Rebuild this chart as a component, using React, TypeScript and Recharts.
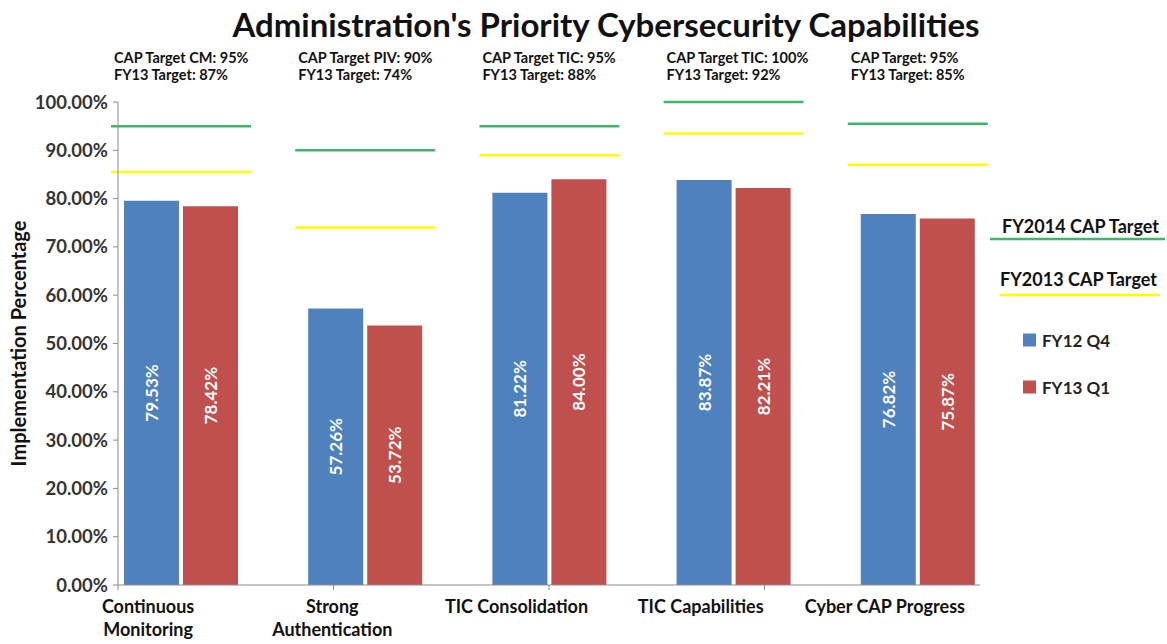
import { BarChart, Bar, XAxis, YAxis, LabelList, Legend } from "recharts";

const categories = [
  "Continuous Monitoring",
  "Strong Authentication",
  "TIC Consolidation",
  "TIC Capabilities",
  "Cyber CAP Progress",
];
const tickLines = [
  ["Continuous", "Monitoring"],
  ["Strong", "Authentication"],
  ["TIC Consolidation"],
  ["TIC Capabilities"],
  ["Cyber CAP Progress"],
];
const fy12q4 = [79.53, 57.26, 81.22, 83.87, 76.82];
const fy13q1 = [78.42, 53.72, 84.0, 82.21, 75.87];
// target lines as drawn in the picture
const fy2014Target = [95, 90, 95, 100, 95.5];
const fy2013Target = [85.5, 74, 89, 93.5, 87];
const capLabels = [
  "CAP Target CM: 95%",
  "CAP Target PIV: 90%",
  "CAP Target TIC: 95%",
  "CAP Target TIC: 100%",
  "CAP Target: 95%",
];
const fy13Labels = [
  "FY13 Target: 87%",
  "FY13 Target: 74%",
  "FY13 Target: 88%",
  "FY13 Target:  92%",
  "FY13 Target: 85%",
];
const yTicks = [0, 10, 20, 30, 40, 50, 60, 70, 80, 90, 100];

const data = categories.map((name, i) => ({
  name,
  fy12: fy12q4[i],
  fy13: fy13q1[i],
  t14: fy2014Target[i],
  t13: fy2013Target[i],
}));

const FONT = "Lato, 'Liberation Sans', sans-serif";
const BLUE = "#4F81BD";
const RED = "#C0504D";
const GREEN = "#3DB86B";
const YELLOW = "#FFFF00";
const PAD = { left: -29, right: -30 };

const targetShape = (color: string) => (props: any) =>
  (
    <line
      x1={props.x}
      x2={props.x + props.width}
      y1={props.y}
      y2={props.y}
      stroke={color}
      strokeWidth={2.5}
    />
  );

const ValueLabel = (props: any) => {
  const { x, y, width, height, value } = props;
  const cx = x + width / 2;
  const cy = y + height / 2;
  return (
    <text
      x={cx}
      y={cy}
      transform={`rotate(-90 ${cx} ${cy})`}
      textAnchor="middle"
      dominantBaseline="central"
      fill="#fff"
      fontSize={17}
      fontWeight={700}
      fontFamily={FONT}
    >
      {Number(value).toFixed(2)}%
    </text>
  );
};

const TargetNote = (props: any) => {
  const { x, index } = props;
  return (
    <text fontFamily={FONT} fontSize={14.5} fontWeight={700} fill="#111">
      <tspan x={x + 3} y={63}>{capLabels[index]}</tspan>
      <tspan x={x + 3} y={80}>{fy13Labels[index]}</tspan>
    </text>
  );
};

const CategoryTick = (props: any) => {
  const { x, y, index } = props;
  const lines = tickLines[index] || [];
  return (
    <text textAnchor="middle" fontFamily={FONT} fontSize={18} fontWeight={700} fill="#111">
      {lines.map((l, i) => (
        <tspan key={l} x={x - 33} y={y + 14 + i * 23}>
          {l}
        </tspan>
      ))}
    </text>
  );
};

const LegendBox = (props: any) => {
  const items = props.payload || [];
  const byName = (n: string) => items.find((p: any) => p.value === n) || { color: "#000", value: n };
  const g = byName("FY2014 CAP Target");
  const yl = byName("FY2013 CAP Target");
  const b = byName("FY12 Q4");
  const r = byName("FY13 Q1");
  return (
    <svg width={182} height={200} style={{ fontFamily: FONT, display: "block" }}>
      <text x={17} y={23} fontSize={18} fontWeight={700} fill="#111">{g.value}</text>
      <line x1={5} x2={180} y1={29} y2={29} stroke={g.color} strokeWidth={2.5} />
      <text x={15} y={76} fontSize={18} fontWeight={700} fill="#111">{yl.value}</text>
      <line x1={15} x2={175} y1={85} y2={85} stroke={yl.color} strokeWidth={2.5} />
      <rect x={38} y={123.5} width={13} height={13} fill={b.color} />
      <text x={57} y={130} dominantBaseline="central" fontSize={17} fontWeight={700} fill="#222">{b.value}</text>
      <rect x={38} y={170.5} width={13} height={13} fill={r.color} />
      <text x={57} y={177} dominantBaseline="central" fontSize={17} fontWeight={700} fill="#222">{r.value}</text>
    </svg>
  );
};

const YTitle = (props: any) => {
  const vb = props.viewBox || { y: 102, height: 483 };
  const cy = vb.y + vb.height / 2;
  return (
    <text
      x={18}
      y={cy}
      transform={`rotate(-90 18 ${cy})`}
      textAnchor="middle"
      dominantBaseline="central"
      fontFamily={FONT}
      fontSize={20}
      fontWeight={700}
      fill="#111"
    >
      Implementation Percentage
    </text>
  );
};

const emptyTick = () => <g />;

export default function App() {
  return (
    <div style={{ position: "absolute", left: 0, top: 0, width: 1167, height: 644, background: "#fff" }}>
      <div
        style={{
          position: "absolute",
          left: 606,
          top: 4,
          transform: "translateX(-50%)",
          whiteSpace: "nowrap",
          fontFamily: FONT,
          fontSize: 33,
          fontWeight: 700,
          color: "#111",
        }}
      >
        Administration's Priority Cybersecurity Capabilities
      </div>
      <BarChart width={1167} height={644} data={data} margin={{ top: 102, right: 187, bottom: 0, left: 0 }}>
        <XAxis
          xAxisId="a"
          type="number"
          domain={[0, 3.5]}
          allowDataOverflow
          ticks={[0, 1, 2, 3]}
          height={6}
          tickSize={5}
          tick={emptyTick}
          stroke="#8c8c8c"
        />
        <XAxis
          xAxisId="b"
          dataKey="name"
          padding={PAD}
          height={53}
          axisLine={false}
          tickLine={false}
          interval={0}
          tick={<CategoryTick />}
        />
        <XAxis xAxisId="g" dataKey="name" padding={PAD} height={0} hide />
        <XAxis xAxisId="y" dataKey="name" padding={PAD} height={0} hide />
        <YAxis
          width={118}
          domain={[0, 100]}
          ticks={yTicks}
          interval={0}
          tickSize={5}
          tickMargin={5}
          stroke="#8c8c8c"
          tick={{ fontSize: 18.5, fontWeight: 700, fill: "#333", fontFamily: FONT }}
          tickFormatter={(v: number) => `${v.toFixed(2)}%`}
          label={<YTitle />}
        />
        <Legend
          layout="horizontal"
          verticalAlign="middle"
          align="center"
          content={<LegendBox />}
          wrapperStyle={{ position: "absolute", left: 985, top: 210, width: 182, height: 200 }}
        />
        <Bar
          xAxisId="g"
          dataKey="t14"
          name="FY2014 CAP Target"
          fill={GREEN}
          barSize={140}
          shape={targetShape(GREEN)}
          isAnimationActive={false}
        >
          <LabelList dataKey="t14" content={<TargetNote />} />
        </Bar>
        <Bar
          xAxisId="y"
          dataKey="t13"
          name="FY2013 CAP Target"
          fill={YELLOW}
          barSize={140}
          shape={targetShape(YELLOW)}
          isAnimationActive={false}
        />
        <Bar xAxisId="b" dataKey="fy12" name="FY12 Q4" fill={BLUE} barSize={55} isAnimationActive={false}>
          <LabelList dataKey="fy12" content={<ValueLabel />} />
        </Bar>
        <Bar xAxisId="b" dataKey="fy13" name="FY13 Q1" fill={RED} barSize={55} isAnimationActive={false}>
          <LabelList dataKey="fy13" content={<ValueLabel />} />
        </Bar>
      </BarChart>
    </div>
  );
}
